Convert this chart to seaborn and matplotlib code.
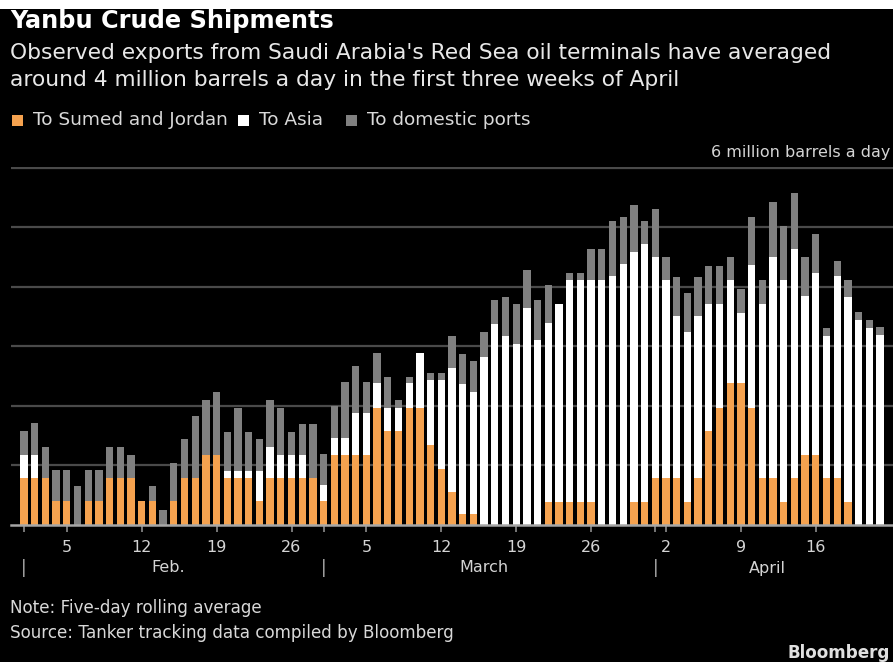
import numpy as np
import pandas as pd
import matplotlib
matplotlib.use("Agg")
import matplotlib.pyplot as plt
from matplotlib.patches import Rectangle
import seaborn as sns

# Five-day rolling average of crude loaded at Yanbu, million barrels a day,
# one value per day from Feb. 1 to April 22
dates = pd.date_range("2026-02-01", "2026-04-22", freq="D")

to_sumed_jordan = [
    0.79, 0.79, 0.79, 0.40, 0.40, 0.00, 0.40, 0.40, 0.79, 0.79,
    0.79, 0.40, 0.40, 0.00, 0.40, 0.79, 0.79, 1.18, 1.18, 0.79,
    0.79, 0.79, 0.40, 0.79, 0.79, 0.79, 0.79, 0.79, 0.40, 1.18,
    1.18, 1.18, 1.18, 1.96, 1.58, 1.58, 1.96, 1.96, 1.35, 0.94,
    0.56, 0.19, 0.19, 0.00, 0.00, 0.00, 0.00, 0.00, 0.00, 0.39,
    0.39, 0.39, 0.39, 0.39, 0.00, 0.00, 0.00, 0.39, 0.39, 0.79,
    0.79, 0.79, 0.39, 0.79, 1.58, 1.97, 2.39, 2.39, 1.96, 0.79,
    0.79, 0.39, 0.79, 1.18, 1.18, 0.79, 0.79, 0.39, 0.00, 0.00,
    0.00,
]
to_asia = [
    0.38, 0.38, 0.00, 0.00, 0.00, 0.00, 0.00, 0.00, 0.00, 0.00,
    0.00, 0.00, 0.00, 0.00, 0.00, 0.00, 0.00, 0.00, 0.00, 0.12,
    0.12, 0.12, 0.51, 0.52, 0.38, 0.38, 0.38, 0.00, 0.28, 0.29,
    0.29, 0.70, 0.70, 0.43, 0.39, 0.39, 0.43, 0.93, 1.08, 1.49,
    2.07, 2.18, 2.05, 2.83, 3.37, 3.18, 3.04, 3.65, 3.11, 3.00,
    3.33, 3.72, 3.72, 3.72, 4.11, 4.18, 4.38, 4.19, 4.33, 3.71,
    3.32, 2.72, 2.86, 2.72, 2.13, 1.74, 1.72, 1.18, 2.41, 2.92,
    3.71, 3.73, 3.85, 2.67, 3.06, 2.39, 3.39, 3.44, 3.44, 3.31,
    3.19,
]
to_domestic = [
    0.41, 0.54, 0.52, 0.52, 0.52, 0.65, 0.52, 0.52, 0.52, 0.52,
    0.39, 0.00, 0.25, 0.25, 0.64, 0.65, 1.04, 0.92, 1.05, 0.66,
    1.06, 0.66, 0.53, 0.79, 0.80, 0.40, 0.53, 0.91, 0.52, 0.53,
    0.93, 0.79, 0.52, 0.50, 0.52, 0.13, 0.10, 0.00, 0.13, 0.13,
    0.54, 0.51, 0.51, 0.41, 0.41, 0.65, 0.67, 0.64, 0.67, 0.65,
    0.00, 0.13, 0.13, 0.53, 0.53, 0.93, 0.80, 0.79, 0.39, 0.81,
    0.39, 0.66, 0.65, 0.66, 0.65, 0.65, 0.39, 0.40, 0.81, 0.40,
    0.93, 0.91, 0.93, 0.65, 0.65, 0.13, 0.25, 0.28, 0.14, 0.13,
    0.13,
]

series_names = ["To Sumed and Jordan", "To Asia", "To domestic ports"]
gridline_values = [1, 2, 3, 4, 5, 6]

ORANGE = "#f5a24f"
WHITE = "#ffffff"
GRAY = "#808080"
BG = "#000000"

df = pd.DataFrame({
    "day": np.arange(len(dates)),
    "sumed": to_sumed_jordan,
    "asia": to_asia,
    "domestic": to_domestic,
})
# running tops of the stack: each layer is drawn over the taller one behind it
df["asia_top"] = df["sumed"] + df["asia"]
df["total"] = df["asia_top"] + df["domestic"]

W, H = 893, 662
fig = plt.figure(figsize=(W / 100, H / 100), dpi=100, facecolor=BG)
renderer = fig.canvas.get_renderer()


def fx(px):
    return px / W


def fy(py):
    return 1 - py / H


# plot area in pixels: left 11, right 893, baseline 525, 6M line at 166.7
ax_left, ax_right, ax_bottom, ax_top = 11, 893, 525, 166.7
ax = fig.add_axes([fx(ax_left), fy(ax_bottom), (ax_right - ax_left) / W,
                   (ax_bottom - ax_top) / H])
ax.set_facecolor(BG)

for col, color in [("total", GRAY), ("asia_top", WHITE), ("sumed", ORANGE)]:
    sns.barplot(data=df, x="day", y=col, color=color, saturation=1,
                width=0.68, errorbar=None, linewidth=0, native_scale=True,
                ax=ax, zorder=3)

px_per_day = 10.7
ax.set_xlim((ax_left - 24) / px_per_day, (ax_right - 24) / px_per_day)
ax.set_ylim(0, 6.02)
ax.set_yticks(gridline_values)
ax.yaxis.grid(True, color="#4a4a4a", linewidth=1.6)
ax.xaxis.grid(False)
ax.set_axisbelow(True)
ax.tick_params(axis="y", length=0, labelleft=False)
for side in ["left", "right", "top"]:
    ax.spines[side].set_visible(False)
ax.spines["bottom"].set_color("#a6a6a6")
ax.spines["bottom"].set_linewidth(1.8)
ax.spines["bottom"].set_zorder(4)
ax.set_xlabel("")
ax.set_ylabel("")

# weekly day ticks, plus unlabelled ticks on the first of each month
week_idx = list(range(4, len(dates), 7))
month_idx = [i for i, d in enumerate(dates) if d.day == 1]
ax.set_xticks(week_idx)
ax.set_xticklabels([str(dates[i].day) for i in week_idx])
ax.set_xticks(month_idx, minor=True)
ax.tick_params(axis="x", which="both", direction="out", length=5, width=1.2,
               color="#8c8c8c")
ax.tick_params(axis="x", which="major", labelsize=11.5, labelcolor="#d4d4d4",
               pad=6)

trans = ax.get_xaxis_transform()
month_y = -(568 - ax_bottom) / (ax_bottom - ax_top)
month_names = {2: "Feb.", 3: "March", 4: "April"}
for i in month_idx:
    ax.text(i, month_y, "|", transform=trans, ha="center", va="center",
            color="#b3b3b3", fontsize=12)
for m, name in month_names.items():
    idx = [i for i, d in enumerate(dates) if d.month == m]
    ax.text((idx[0] + idx[-1]) / 2, month_y, name, transform=trans,
            ha="center", va="center", color="#d4d4d4", fontsize=11.5)


def fitted_size(s, width_px, base=12, **kw):
    t = fig.text(0, 0, s, fontsize=base, **kw)
    w = t.get_window_extent(renderer=renderer).width
    t.remove()
    return base * width_px / w


# thin white band along the top edge
fig.patches.append(Rectangle((0, fy(9)), 1, 9 / H, transform=fig.transFigure,
                             facecolor="white", edgecolor="none", zorder=0))

title = "Yanbu Crude Shipments"
sub1 = "Observed exports from Saudi Arabia's Red Sea oil terminals have averaged"
sub2 = "around 4 million barrels a day in the first three weeks of April"
fig.text(fx(10), fy(21), title, color="white", fontweight="bold",
         fontsize=fitted_size(title, 322, fontweight="bold"),
         ha="left", va="center")
sub_size = fitted_size(sub1, 820)
fig.text(fx(10), fy(53), sub1, color="#e8e8e8", fontsize=sub_size,
         ha="left", va="center")
fig.text(fx(10), fy(80), sub2, color="#e8e8e8", fontsize=sub_size,
         ha="left", va="center")

# legend row
leg_size = fitted_size(series_names[0], 194)
leg_y = 120
for name, color, sx, tx in zip(series_names, [ORANGE, WHITE, GRAY],
                               [12, 238, 346], [33, 259, 367]):
    fig.patches.append(Rectangle((fx(sx), fy(leg_y + 6)), 11 / W, 11 / H,
                                 transform=fig.transFigure, facecolor=color,
                                 edgecolor="none"))
    fig.text(fx(tx), fy(leg_y), name, color="#d9d9d9", fontsize=leg_size,
             ha="left", va="center")

fig.text(fx(890), fy(152), "6 million barrels a day", color="#d4d4d4",
         fontsize=11.5, ha="right", va="center")

note = "Note: Five-day rolling average"
source = "Source: Tanker tracking data compiled by Bloomberg"
foot_size = fitted_size(source, 443)
fig.text(fx(10), fy(608), note, color="#d9d9d9", fontsize=foot_size,
         ha="left", va="center")
fig.text(fx(10), fy(633), source, color="#d9d9d9", fontsize=foot_size,
         ha="left", va="center")
fig.text(fx(890), fy(653), "Bloomberg", color="#e0e0e0", fontsize=foot_size,
         fontweight="bold", ha="right", va="center")

fig.savefig("out.png", dpi=100, facecolor=BG)
